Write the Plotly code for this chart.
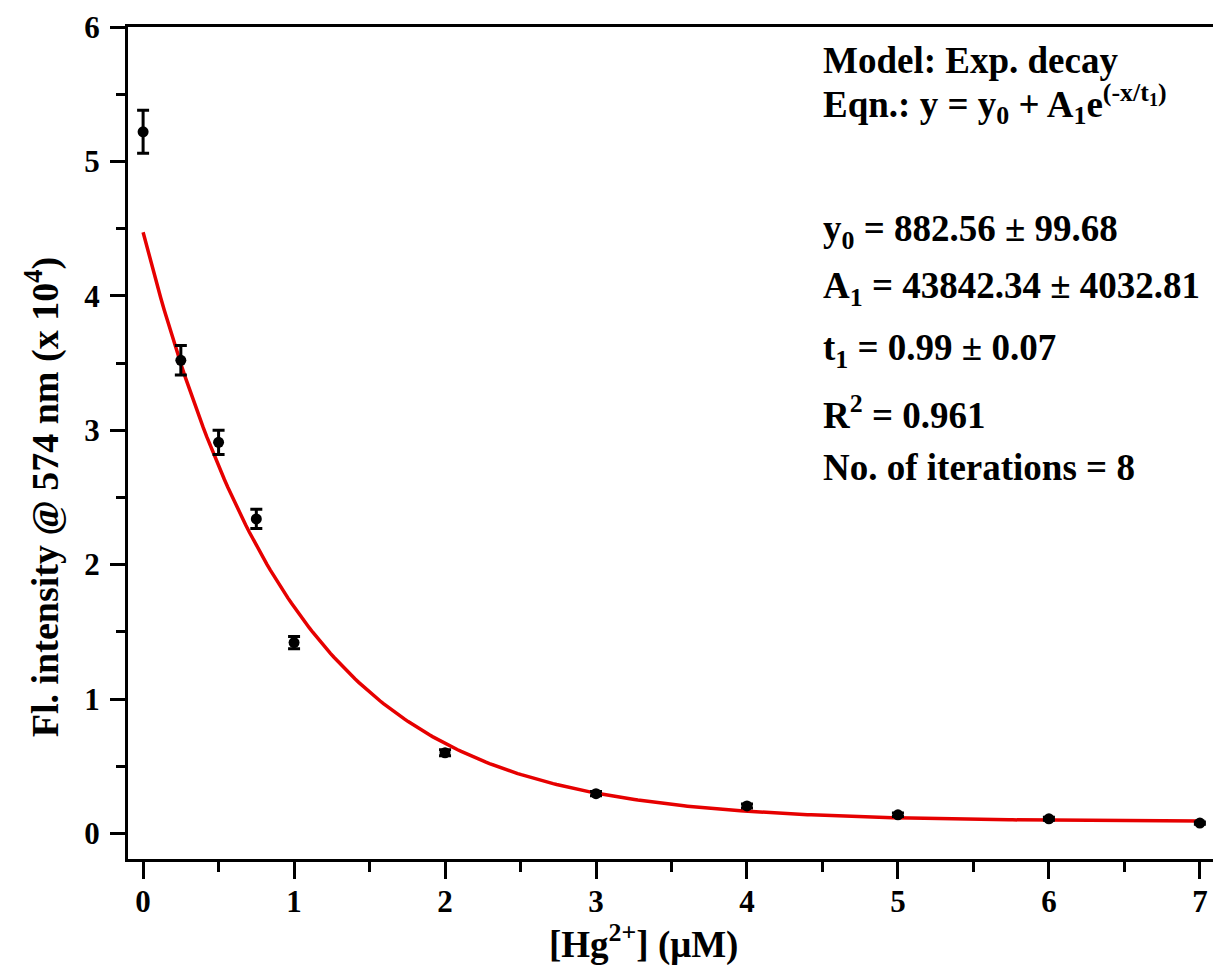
import numpy as np
import plotly.graph_objects as go

# Data (Fl. intensity in units of 10^4)
conc = [0, 0.25, 0.5, 0.75, 1, 2, 3, 4, 5, 6, 7]
intensity = [5.22, 3.52, 2.91, 2.34, 1.42, 0.60, 0.296, 0.205, 0.139, 0.109, 0.077]
err = [0.16, 0.11, 0.09, 0.072, 0.045, 0.022, 0.016, 0.015, 0.013, 0.011, 0.009]
xticks = [0, 1, 2, 3, 4, 5, 6, 7]
yticks = [0, 1, 2, 3, 4, 5, 6]

# Fit parameters shown on the chart (raw units)
y0 = 882.56
A1 = 43842.34
t1 = 0.99
scale = 1e4

xfit = np.linspace(0, 7, 300)
yfit = (y0 + A1 * np.exp(-xfit / t1)) / scale

FONT = "Liberation Serif"
BODY = 8  # default page margin of the html body

# plot-area pixel box on the page
PL, PR, PT, PB = 128, 1221, 27, 859


def px(x):
    return (x - PL) / (PR - PL)


def py(y):
    return 1 - (y - PT) / (PB - PT)


fig = go.Figure()
fig.add_trace(go.Scatter(
    x=xfit, y=yfit, mode="lines",
    line=dict(color="#e60000", width=3.5), showlegend=False, hoverinfo="skip"))
fig.add_trace(go.Scatter(
    x=conc, y=intensity, mode="markers",
    marker=dict(color="black", size=11, symbol="circle"),
    error_y=dict(type="data", array=err, visible=True, color="black",
                 thickness=3, width=6),
    showlegend=False))

TICK = 31
tickfont = dict(family=FONT, size=TICK, color="black")
fig.update_layout(font=dict(family=FONT, size=TICK, color="black"))
fig.update_xaxes(
    range=[-0.1, 7.12], tickmode="array", tickvals=xticks,
    ticktext=[f"<b>{v}</b>" for v in xticks],
    ticks="outside", ticklen=17, tickwidth=3, tickcolor="black",
    showline=True, linewidth=3, linecolor="black", mirror=True,
    showgrid=False, zeroline=False, tickfont=tickfont,
    ticklabeloverflow="allow", ticklabelstandoff=-4,
    minor=dict(dtick=0.5, ticks="outside", ticklen=10, tickwidth=3, tickcolor="black"))
fig.update_yaxes(
    range=[-0.19, 6], tickmode="array", tickvals=yticks,
    ticktext=[f"<b>{v}</b>" for v in yticks],
    ticks="outside", ticklen=15, tickwidth=3, tickcolor="black",
    showline=True, linewidth=3, linecolor="black", mirror=True,
    showgrid=False, zeroline=False, tickfont=tickfont,
    ticklabeloverflow="allow", ticklabelstandoff=4,
    minor=dict(dtick=0.5, ticks="outside", ticklen=9, tickwidth=3, tickcolor="black"))

fig.add_annotation(text="<b>[Hg<sup>2+</sup>] (\u03bcM)</b>", xref="paper", yref="paper",
                   x=px(645), y=py(942), xanchor="center", yanchor="middle",
                   showarrow=False, font=dict(family=FONT, size=37, color="black"))
fig.add_annotation(text="<b>Fl. intensity @ 574 nm (x 10<sup>4</sup>)</b>", xref="paper", yref="paper",
                   x=px(42), y=py(497), xanchor="center", yanchor="middle",
                   textangle=-90, showarrow=False,
                   font=dict(family=FONT, size=38, color="black"))

lines = [
    ("Model: Exp. decay", 61),
    ("Eqn.: y = y<sub>0</sub> + A<sub>1</sub>e<sup>(-x/t<sub>1</sub>)</sup>", 104),
    ("y<sub>0</sub> = 882.56 \u00b1 99.68", 231),
    ("A<sub>1</sub> = 43842.34 \u00b1 4032.81", 288),
    ("t<sub>1</sub> = 0.99 \u00b1 0.07", 350),
    ("R<sup>2</sup> = 0.961", 412),
    ("No. of iterations = 8", 467),
]
for txt, ypix in lines:
    fig.add_annotation(
        text=f"<b>{txt}</b>", xref="paper", yref="paper",
        x=px(823), y=py(ypix),
        xanchor="left", yanchor="middle", showarrow=False,
        font=dict(family=FONT, size=37, color="black"))

W, H = 1221 - BODY, 965 - BODY
fig.update_layout(
    width=W, height=H,
    margin=dict(l=PL - BODY, r=0, t=PT - BODY, b=H - (PB - BODY)),
    paper_bgcolor="white", plot_bgcolor="white",
)
fig.write_html("out.html")
